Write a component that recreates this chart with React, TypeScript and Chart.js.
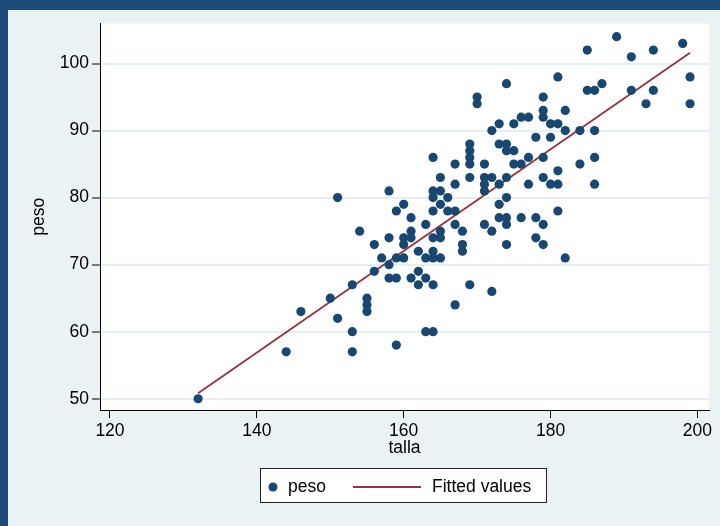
import React, { useEffect, useRef } from 'react';
import { Chart, registerables } from 'chart.js';

Chart.register(...registerables);

// talla (cm) and peso (kg), paired by index
const talla = [
  132,
  144,
  146,
  150,
  151, 151,
  153, 153, 153,
  154,
  155, 155, 155,
  156, 156,
  157,
  158, 158, 158, 158,
  159, 159, 159, 159,
  160, 160, 160, 160,
  161, 161, 161, 161,
  162, 162, 162,
  163, 163, 163, 163,
  164, 164, 164, 164, 164, 164, 164, 164, 164,
  165, 165, 165, 165, 165, 165,
  166, 166,
  167, 167, 167, 167, 167,
  168, 168, 168,
  169, 169, 169, 169, 169, 169,
  170, 170,
  171, 171, 171, 171, 171,
  172, 172, 172, 172,
  173, 173, 173, 173, 173,
  174, 174, 174, 174, 174, 174, 174, 174,
  175, 175, 175,
  176, 176, 176,
  177, 177, 177,
  178, 178, 178,
  179, 179, 179, 179, 179, 179, 179,
  180, 180, 180,
  181, 181, 181, 181, 181,
  182, 182, 182,
  184, 184,
  185, 185,
  186, 186, 186, 186,
  187,
  189,
  191, 191,
  193,
  194, 194,
  198,
  199, 199,
];

const peso = [
  50,
  57,
  63,
  65,
  80, 62,
  67, 60, 57,
  75,
  65, 64, 63,
  73, 69,
  71,
  81, 74, 70, 68,
  78, 71, 68, 58,
  79, 74, 73, 71,
  77, 75, 74, 68,
  72, 69, 67,
  76, 71, 68, 60,
  86, 81, 80, 78, 74, 72, 71, 67, 60,
  83, 81, 79, 75, 74, 71,
  80, 78,
  85, 82, 78, 76, 64,
  75, 73, 72,
  88, 87, 86, 85, 83, 67,
  95, 94,
  85, 83, 82, 81, 76,
  90, 83, 75, 66,
  91, 88, 82, 79, 77,
  97, 88, 87, 83, 80, 77, 76, 73,
  91, 87, 85,
  92, 85, 77,
  92, 86, 82,
  89, 77, 74,
  95, 93, 92, 86, 83, 76, 73,
  91, 89, 82,
  98, 91, 84, 82, 78,
  93, 90, 71,
  90, 85,
  102, 96,
  96, 90, 86, 82,
  97,
  104,
  101, 96,
  94,
  102, 96,
  103,
  98, 94,
];

const xTicks = [120, 140, 160, 180, 200];
const yTicks = [50, 60, 70, 80, 90, 100];
const seriesNames = ['peso', 'Fitted values'];
const xTitle = 'talla';
const yTitle = 'peso';

const NAVY = '#1A476F';
const FRAME = '#1d4a78';
const MAROON = '#90353B';
const BG = '#EAF2F3';
const GRID = '#E6EEEF';
const FONT = "'Liberation Sans', Arial, Helvetica, sans-serif";
const FS = 17.5;

export default function App() {
  const ref = useRef<HTMLCanvasElement>(null);

  useEffect(() => {
    document.body.style.margin = '0';
    const canvas = ref.current;
    if (!canvas) return;

    // OLS fit
    const n = talla.length;
    const mx = talla.reduce((a, b) => a + b, 0) / n;
    const my = peso.reduce((a, b) => a + b, 0) / n;
    let sxy = 0, sxx = 0;
    for (let i = 0; i < n; i++) {
      sxy += (talla[i] - mx) * (peso[i] - my);
      sxx += (talla[i] - mx) * (talla[i] - mx);
    }
    const slope = sxy / sxx;
    const icpt = my - slope * mx;
    const xmin = Math.min(...talla);
    const xmax = Math.max(...talla);
    const fitted = [xmin, xmax].map((x) => ({ x, y: icpt + slope * x }));

    const points = talla.map((x, i) => ({ x, y: peso[i] }));

    const bgPlugin = {
      id: 'plotBg',
      beforeDraw(chart: any) {
        const { ctx, chartArea } = chart;
        ctx.save();
        ctx.fillStyle = '#ffffff';
        ctx.fillRect(chartArea.left, chartArea.top, chartArea.right - chartArea.left, chartArea.bottom - chartArea.top);
        ctx.restore();
      },
    };

    const legendPlugin = {
      id: 'stataLegend',
      afterDraw(chart: any) {
        const { ctx } = chart;
        const bx = 252, by = 458, bw = 286, bh = 34;
        const cy = by + bh / 2 + 2;
        ctx.save();
        ctx.fillStyle = '#ffffff';
        ctx.fillRect(bx, by, bw, bh);
        ctx.strokeStyle = '#222';
        ctx.lineWidth = 1;
        ctx.strokeRect(bx + 0.5, by + 0.5, bw, bh);
        ctx.fillStyle = NAVY;
        ctx.beginPath();
        ctx.arc(bx + 13, cy, 4.5, 0, Math.PI * 2);
        ctx.fill();
        ctx.font = `${FS}px ${FONT}`;
        ctx.fillStyle = '#000';
        ctx.textBaseline = 'middle';
        ctx.fillText(seriesNames[0], bx + 28, cy);
        ctx.strokeStyle = MAROON;
        ctx.lineWidth = 1.8;
        ctx.beginPath();
        ctx.moveTo(bx + 93, cy);
        ctx.lineTo(bx + 161, cy);
        ctx.stroke();
        ctx.fillText(seriesNames[1], bx + 172, cy);
        ctx.restore();
      },
    };

    const chart = new Chart(canvas, {
      type: 'scatter',
      data: {
        datasets: [
          {
            label: seriesNames[0],
            data: points,
            backgroundColor: NAVY,
            borderColor: NAVY,
            borderWidth: 0,
            pointRadius: 4.6,
            pointHoverRadius: 4.6,
          },
          {
            label: seriesNames[1],
            data: fitted,
            showLine: true,
            borderColor: MAROON,
            borderWidth: 1.8,
            pointRadius: 0,
            fill: false,
          } as any,
        ],
      },
      options: {
        responsive: false,
        animation: false,
        devicePixelRatio: 1,
        layout: { padding: { left: 0, top: 12, right: 11, bottom: 66 } },
        plugins: {
          legend: { display: false },
          tooltip: { enabled: false },
        },
        scales: {
          x: {
            type: 'linear',
            min: 118.64,
            max: 201.58,
            afterFit: (s: any) => { s.height = 50; },
            afterBuildTicks: (s: any) => { s.ticks = xTicks.map((v) => ({ value: v })); },
            ticks: {
              color: '#000',
              font: { family: FONT, size: FS },
              padding: 3,
              maxRotation: 0,
            },
            grid: {
              drawOnChartArea: false,
              drawTicks: true,
              tickLength: 8,
              tickColor: '#000',
              tickWidth: 1,
            },
            border: { display: true, color: '#000', width: 1 },
            title: {
              display: true,
              text: xTitle,
              color: '#000',
              font: { family: FONT, size: FS },
              padding: { top: 0, bottom: 1 },
            },
          },
          y: {
            type: 'linear',
            min: 48.32,
            max: 105.97,
            afterFit: (s: any) => { s.width = 92; },
            afterBuildTicks: (s: any) => { s.ticks = yTicks.map((v) => ({ value: v })); },
            ticks: {
              color: '#000',
              font: { family: FONT, size: FS },
              padding: 3,
            },
            grid: {
              color: GRID,
              lineWidth: 2,
              drawTicks: true,
              tickLength: 8,
              tickColor: '#000',
              tickWidth: 1,
            },
            border: { display: true, color: '#000', width: 1 },
            title: {
              display: true,
              text: yTitle,
              color: '#000',
              font: { family: FONT, size: FS },
              padding: { top: 21, bottom: 0 },
            },
          },
        },
      },
      plugins: [bgPlugin, legendPlugin],
    });

    return () => chart.destroy();
  }, []);

  return (
    <div style={{ position: 'absolute', left: 0, top: 0, width: 720, height: 526, background: FRAME, overflow: 'hidden' }}>
      <div style={{ position: 'absolute', left: 8, top: 10, width: 712, height: 516, background: BG }}>
        <canvas ref={ref} width={712} height={516} style={{ display: 'block', width: 712, height: 516 }} />
      </div>
    </div>
  );
}
